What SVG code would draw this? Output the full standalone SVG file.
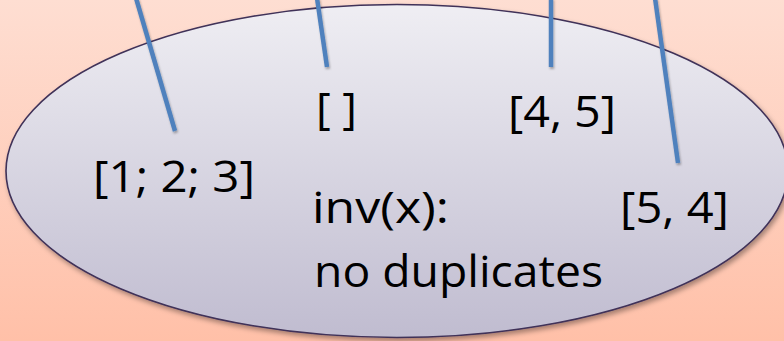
<svg xmlns="http://www.w3.org/2000/svg" width="784" height="341" viewBox="0 0 784 341">
  <defs>
    <linearGradient id="bg" x1="0" y1="0" x2="0" y2="1">
      <stop offset="0" stop-color="#FEDED2"/>
      <stop offset="1" stop-color="#FFC0A8"/>
    </linearGradient>
    <linearGradient id="ell" x1="0" y1="0" x2="0" y2="1">
      <stop offset="0" stop-color="#EFEEF3"/>
      <stop offset="1" stop-color="#C0BCD0"/>
    </linearGradient>
    <filter id="shadow" x="-10%" y="-10%" width="120%" height="120%">
      <feDropShadow dx="2" dy="3" stdDeviation="2.5" flood-color="#000" flood-opacity="0.35"/>
    </filter>
    <filter id="lshadow" filterUnits="userSpaceOnUse" x="0" y="-10" width="784" height="200">
      <feDropShadow dx="1" dy="2" stdDeviation="1.2" flood-color="#000" flood-opacity="0.3"/>
    </filter>
  </defs>
  <style>
    .lbl { font-family: "Open Sans", "Noto Sans", "Liberation Sans", sans-serif; font-size: 44px; fill: #000; }
    .conn { stroke: #4F81BD; stroke-width: 4.5; fill: none; stroke-linecap: butt; filter: url(#lshadow); }
  </style>
  <rect x="0" y="0" width="784" height="341" fill="url(#bg)"/>
  <g id="set">
    <ellipse cx="397" cy="171" rx="391" ry="166.5" fill="url(#ell)" stroke="#3F3158" stroke-width="1.6" filter="url(#shadow)"/>
  </g>
  <g id="connectors">
    <line class="conn" x1="136" y1="-2" x2="175" y2="131"/>
    <line class="conn" x1="317" y1="-2" x2="327" y2="67"/>
    <line class="conn" x1="551" y1="-2" x2="551" y2="67"/>
    <line class="conn" x1="655" y1="-2" x2="678" y2="163"/>
  </g>
  <g id="empty-list">
    <text class="lbl" x="316" y="124" textLength="41" lengthAdjust="spacingAndGlyphs">[ ]</text>
  </g>
  <g id="list-4-5">
    <text class="lbl" x="508" y="127" textLength="108" lengthAdjust="spacingAndGlyphs">[4, 5]</text>
  </g>
  <g id="list-1-2-3">
    <text class="lbl" x="93" y="192" textLength="162" lengthAdjust="spacingAndGlyphs">[1; 2; 3]</text>
  </g>
  <g id="list-5-4">
    <text class="lbl" x="620" y="223" textLength="109" lengthAdjust="spacingAndGlyphs">[5, 4]</text>
  </g>
  <g id="invariant">
    <text class="lbl" x="312" y="223" textLength="137" lengthAdjust="spacingAndGlyphs">inv(x):</text>
    <text class="lbl" x="314" y="287" textLength="289" lengthAdjust="spacingAndGlyphs">no duplicates</text>
  </g>
</svg>
